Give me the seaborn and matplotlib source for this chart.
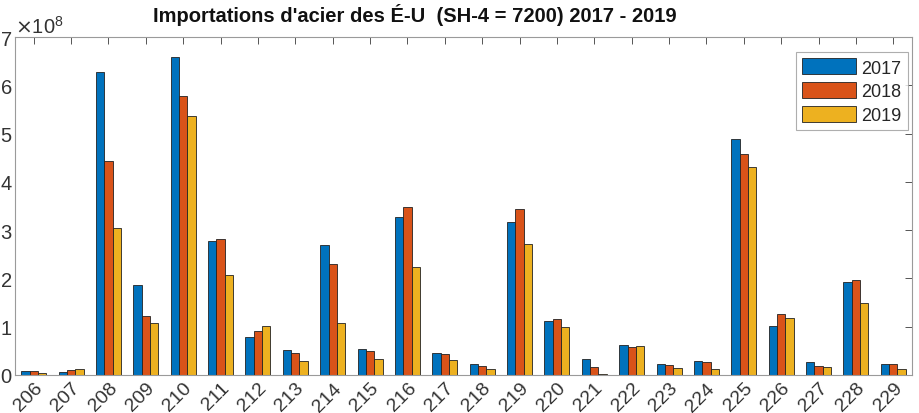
import pandas as pd
import seaborn as sns
import matplotlib.pyplot as plt
from matplotlib.ticker import ScalarFormatter

# HS-4 codes (as shown, cropped on the left) and import values (in units of 1e8)
codes = ["206", "207", "208", "209", "210", "211", "212", "213",
         "214", "215", "216", "217", "218", "219", "220", "221",
         "222", "223", "224", "225", "226", "227", "228", "229"]
years = ["2017", "2018", "2019"]
v2017 = [0.09, 0.07, 6.27, 1.86, 6.58, 2.78, 0.78, 0.52, 2.69, 0.54, 3.28, 0.46,
         0.22, 3.16, 1.11, 0.34, 0.63, 0.22, 0.28, 4.89, 1.02, 0.26, 1.92, 0.22]
v2018 = [0.08, 0.10, 4.44, 1.23, 5.78, 2.82, 0.91, 0.46, 2.30, 0.49, 3.48, 0.44,
         0.18, 3.44, 1.16, 0.16, 0.58, 0.20, 0.26, 4.57, 1.27, 0.18, 1.97, 0.22]
v2019 = [0.04, 0.12, 3.04, 1.07, 5.36, 2.08, 1.01, 0.30, 1.07, 0.33, 2.24, 0.31,
         0.12, 2.72, 0.99, 0.02, 0.61, 0.14, 0.13, 4.30, 1.19, 0.16, 1.50, 0.13]
scale = 1e8
colors = ["#0072BD", "#D95319", "#EDB120"]

rows = []
for yr, vals in zip(years, [v2017, v2018, v2019]):
    for c, v in zip(codes, vals):
        rows.append({"code": c, "year": yr, "value": v * scale})
df = pd.DataFrame(rows)

sns.set_style("white")
plt.rcParams["font.family"] = ["Liberation Sans", "DejaVu Sans"]

fig = plt.figure(figsize=(9.19, 4.14), dpi=100)
ax = fig.add_axes([15 / 919, 38 / 414, 897 / 919, 338 / 414])

sns.barplot(data=df, x="code", y="value", hue="year", palette=colors,
            width=0.67, edgecolor="#222222", linewidth=0.6, saturation=1,
            ax=ax)

ax.set_xlim(-0.5, 23.5)
ax.set_ylim(0, 7e8)
ax.set_xlabel("")
ax.set_ylabel("")

fmt = ScalarFormatter(useMathText=True)
fmt.set_powerlimits((0, 0))
ax.yaxis.set_major_formatter(fmt)
ax.yaxis.get_offset_text().set_fontsize(14.5)
ax.yaxis.get_offset_text().set_color("#333333")

ax.tick_params(axis="both", direction="in", length=5, width=0.7,
               color="#555555", labelcolor="#333333",
               top=True, right=True)
ax.tick_params(axis="y", pad=2, labelsize=14.5)
ax.tick_params(axis="x", pad=3, labelsize=14)
for lbl in ax.get_xticklabels():
    lbl.set_rotation(45)
    lbl.set_ha("right")
    lbl.set_va("top")
    lbl.set_rotation_mode("anchor")

for s in ax.spines.values():
    s.set_color("#9a9a9a")
    s.set_linewidth(0.8)

leg = ax.legend(loc="upper right", fontsize=13, frameon=True, fancybox=False,
                edgecolor="#9a9a9a", handlelength=3.0, handleheight=1.0,
                borderpad=0.35, labelspacing=0.3, handletextpad=0.3,
                borderaxespad=0, bbox_to_anchor=(908 / 919, 1 - 53 / 414),
                bbox_transform=fig.transFigure)
leg.get_frame().set_linewidth(0.8)

fig.text(415 / 919, 1 - 15 / 414,
         "Importations d'acier des É-U  (SH-4 = 7200) 2017 - 2019",
         ha="center", va="center", fontsize=14.5, fontweight="bold",
         color="#111111")

fig.savefig("out.png", dpi=100)
